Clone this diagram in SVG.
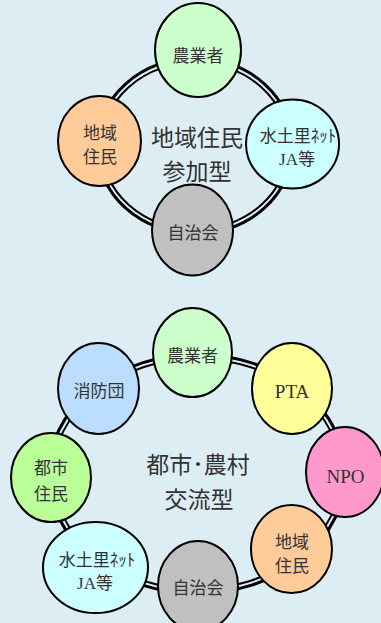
<svg xmlns="http://www.w3.org/2000/svg" width="381" height="623" viewBox="0 0 381 623">
<style>
.ring-o{fill:none;stroke:#000;stroke-width:3}
.ring-i{fill:none;stroke:#000;stroke-width:2}
.node{stroke:#000;stroke-width:2}
text{font-family:"Liberation Serif","Noto Sans CJK JP",serif;fill:#333;text-anchor:middle}
.t{font-size:17px}
.lat{font-size:19px}
.c{font-size:23px}
</style>
<rect width="381" height="623" fill="#DCEEF4"/>
<g id="connectors">
<ellipse class="ring-o" cx="195" cy="146" rx="98" ry="88"/>
<ellipse class="ring-i" cx="195" cy="146" rx="93.5" ry="83.5"/>
<ellipse class="ring-o" cx="197" cy="474" rx="148.5" ry="119.5"/>
<ellipse class="ring-i" cx="197" cy="474" rx="144" ry="115"/>
</g>
<g id="title1">
<text class="c" x="197" y="146">地域住民</text>
<text class="c" x="197" y="180">参加型</text>
</g>
<g id="n1-farmer">
<ellipse class="node" cx="198" cy="50" rx="43" ry="47" fill="#CCFFCC"/>
<text class="t" x="198" y="62">農業者</text>
</g>
<g id="n1-resident">
<ellipse class="node" cx="99.5" cy="141" rx="41.5" ry="45" fill="#FFCC99"/>
<text class="t" x="100" y="139">地域</text>
<text class="t" x="100" y="163">住民</text>
</g>
<g id="n1-water">
<ellipse class="node" cx="292.5" cy="144" rx="46.5" ry="44.5" fill="#CCFFFF"/>
<text class="t" x="298" y="142">水土里ﾈｯﾄ</text>
<text class="t" x="297" y="165">JA等</text>
</g>
<g id="n1-council">
<ellipse class="node" cx="192.5" cy="230" rx="40.5" ry="45.5" fill="#C0C0C0"/>
<text class="t" x="193" y="239">自治会</text>
</g>
<g id="title2">
<text class="c" x="198" y="473">都市･農村</text>
<text class="c" x="199" y="508">交流型</text>
</g>
<g id="n2-farmer">
<ellipse class="node" cx="192.5" cy="352.5" rx="39.5" ry="44.5" fill="#CCFFCC"/>
<text class="t" x="192.5" y="362">農業者</text>
</g>
<g id="n2-pta">
<ellipse class="node" cx="292" cy="388.5" rx="40" ry="45.5" fill="#FFFF99"/>
<text class="lat" x="292" y="398">PTA</text>
</g>
<g id="n2-npo">
<ellipse class="node" cx="345" cy="472" rx="39" ry="45" fill="#FF99CC"/>
<text class="lat" x="345.5" y="483">NPO</text>
</g>
<g id="n2-resident">
<ellipse class="node" cx="291.5" cy="549" rx="40.5" ry="44" fill="#FFCC99"/>
<text class="t" x="292" y="548">地域</text>
<text class="t" x="292" y="572">住民</text>
</g>
<g id="n2-council">
<ellipse class="node" cx="198" cy="586" rx="40" ry="45" fill="#C0C0C0"/>
<text class="t" x="198" y="594">自治会</text>
</g>
<g id="n2-water">
<ellipse class="node" cx="95.5" cy="567.5" rx="52.5" ry="45.5" fill="#CCFFFF"/>
<text class="t" x="97" y="566">水土里ﾈｯﾄ</text>
<text class="t" x="95" y="589">JA等</text>
</g>
<g id="n2-urban">
<ellipse class="node" cx="51" cy="477.5" rx="40" ry="44.5" fill="#BBFF99"/>
<text class="t" x="51" y="474">都市</text>
<text class="t" x="51" y="500">住民</text>
</g>
<g id="n2-fire">
<ellipse class="node" cx="98.5" cy="388.5" rx="40.5" ry="45.5" fill="#BBDDFF"/>
<text class="t" x="99" y="397">消防団</text>
</g>
</svg>
